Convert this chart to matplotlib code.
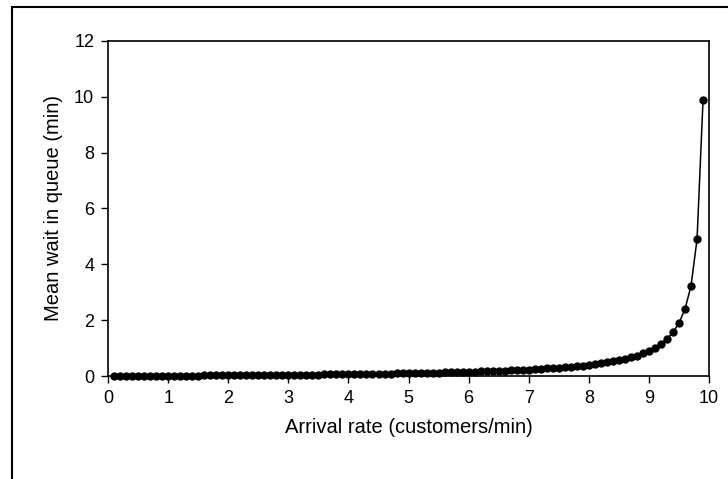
import matplotlib.pyplot as plt
from matplotlib.patches import Rectangle

arrival_rate = [
    0.1, 0.2, 0.3, 0.4, 0.5, 0.6, 0.7, 0.8, 0.9, 1.0,
    1.1, 1.2, 1.3, 1.4, 1.5, 1.6, 1.7, 1.8, 1.9, 2.0,
    2.1, 2.2, 2.3, 2.4, 2.5, 2.6, 2.7, 2.8, 2.9, 3.0,
    3.1, 3.2, 3.3, 3.4, 3.5, 3.6, 3.7, 3.8, 3.9, 4.0,
    4.1, 4.2, 4.3, 4.4, 4.5, 4.6, 4.7, 4.8, 4.9, 5.0,
    5.1, 5.2, 5.3, 5.4, 5.5, 5.6, 5.7, 5.8, 5.9, 6.0,
    6.1, 6.2, 6.3, 6.4, 6.5, 6.6, 6.7, 6.8, 6.9, 7.0,
    7.1, 7.2, 7.3, 7.4, 7.5, 7.6, 7.7, 7.8, 7.9, 8.0,
    8.1, 8.2, 8.3, 8.4, 8.5, 8.6, 8.7, 8.8, 8.9, 9.0,
    9.1, 9.2, 9.3, 9.4, 9.5, 9.6, 9.7, 9.8, 9.9,
]
mean_wait = [
    0.001, 0.002, 0.003, 0.004, 0.005, 0.006, 0.008, 0.009, 0.010, 0.011,
    0.012, 0.014, 0.015, 0.016, 0.018, 0.019, 0.020, 0.022, 0.023, 0.025,
    0.027, 0.028, 0.030, 0.032, 0.033, 0.035, 0.037, 0.039, 0.041, 0.043,
    0.045, 0.047, 0.049, 0.052, 0.054, 0.056, 0.059, 0.061, 0.064, 0.067,
    0.069, 0.072, 0.075, 0.079, 0.082, 0.085, 0.089, 0.092, 0.096, 0.100,
    0.104, 0.108, 0.113, 0.117, 0.122, 0.127, 0.133, 0.138, 0.144, 0.150,
    0.156, 0.163, 0.170, 0.178, 0.186, 0.194, 0.203, 0.213, 0.223, 0.233,
    0.245, 0.257, 0.270, 0.285, 0.300, 0.317, 0.335, 0.355, 0.376, 0.400,
    0.426, 0.456, 0.488, 0.525, 0.567, 0.614, 0.669, 0.733, 0.809, 0.900,
    1.011, 1.150, 1.329, 1.567, 1.900, 2.400, 3.233, 4.900, 9.900,
]
x_ticks = [0, 1, 2, 3, 4, 5, 6, 7, 8, 9, 10]
y_ticks = [0, 2, 4, 6, 8, 10, 12]

plt.rcParams["font.family"] = ["Liberation Sans", "DejaVu Sans"]

fig = plt.figure(figsize=(7.28, 4.79), dpi=100)
ax = fig.add_axes([0.1484, 0.215, 0.8256, 0.6996])

# outer chart frame, runs off the right and bottom edges
fig.patches.append(Rectangle((0.0165, -0.2), 1.2, 1.185, transform=fig.transFigure,
                             fill=False, edgecolor="black", linewidth=1.5,
                             clip_on=False))

ax.plot(arrival_rate, mean_wait, color="black", linewidth=1.1,
        marker="o", markersize=5, clip_on=False)

ax.set_xlim(0, 10)
ax.set_ylim(0, 12)
ax.set_xticks(x_ticks)
ax.set_yticks(y_ticks)
ax.tick_params(direction="out", length=5, width=1, labelsize=13, pad=5)
for spine in ax.spines.values():
    spine.set_linewidth(1.2)
ax.set_xlabel("Arrival rate (customers/min)", fontsize=14.5, labelpad=8)
ax.set_ylabel("Mean wait in queue (min)", fontsize=14.5, labelpad=8)

plt.savefig("out.png", dpi=100)
